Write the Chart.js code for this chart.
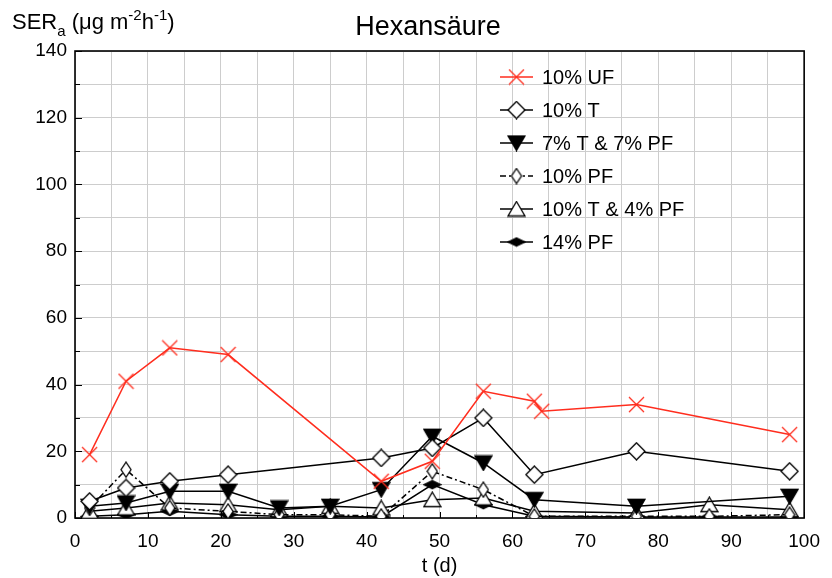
<!DOCTYPE html>
<html><head><meta charset="utf-8">
<script src="https://cdn.jsdelivr.net/npm/chart.js@4"></script>
<style>html,body{margin:0;padding:0;background:#fff}</style>
</head><body>
<canvas id="c" width="832" height="578"></canvas>
<script>
// ---- data ----
const chartTitle = 'Hexansäure';
const seriesLabels = ['10% UF', '10% T', '7% T & 7% PF', '10% PF', '10% T & 4% PF', '14% PF'];
const ufDays   = [2, 7, 13, 21, 42, 49, 56, 63, 64, 77, 98];
const ufValues = [19, 41, 51, 49, 11, 17, 38, 35, 32, 34, 25];
const tDays    = [2, 7, 13, 21, 42, 49, 56, 63, 77, 98];
const tValues  = [5, 9, 11, 13, 18, 21, 30, 13, 20, 14];
const t7pf7Days   = [2, 7, 13, 21, 28, 35, 42, 49, 56, 63, 77, 98];
const t7pf7Values = [3.5, 4.5, 8, 8, 3, 3.5, 8.5, 24.5, 16.5, 5.5, 3.5, 6.5];
const pfDays   = [2, 7, 13, 21, 28, 35, 42, 49, 56, 63, 77, 87, 98];
const pfValues = [3, 14.5, 3, 2, 1, 1, 0.5, 14, 8.5, 0.5, 0.5, 0.5, 1];
const t10pf4Days   = [2, 7, 13, 21, 28, 35, 42, 49, 56, 63, 77, 87, 98];
const t10pf4Values = [2, 3, 4.5, 4, 2.5, 3.5, 3, 5.5, 6, 2, 1.5, 4, 2.5];
const pf14Days   = [2, 7, 13, 21, 28, 35, 42, 49, 56, 63, 77, 87, 98];
const pf14Values = [0.5, 1, 2, 1, 0.5, 0.5, 0.3, 10, 4, 0.5, 0.3, 0.3, 0.3];
const xTickLabels = [0, 10, 20, 30, 40, 50, 60, 70, 80, 90, 100];
const yTickLabels = [0, 20, 40, 60, 80, 100, 120, 140];

const RED = 'rgb(255,45,30)';
const FONT = '"Liberation Sans", Arial, Helvetica, sans-serif';

function mk(w, h, fn) {
  const c = document.createElement('canvas'); c.width = w; c.height = h;
  const g = c.getContext('2d'); g.lineWidth = 1.3; g.lineJoin = 'miter'; fn(g, w, h); return c;
}
function poly(g, pts, fill, stroke) {
  g.beginPath(); g.moveTo(pts[0][0], pts[0][1]);
  for (let i = 1; i < pts.length; i++) g.lineTo(pts[i][0], pts[i][1]);
  g.closePath(); g.fillStyle = fill; g.fill(); g.strokeStyle = stroke; g.stroke();
}
const mX = mk(17, 17, g => { g.strokeStyle = RED; g.beginPath(); g.moveTo(1,1); g.lineTo(16,16); g.moveTo(16,1); g.lineTo(1,16); g.stroke(); });
const mDiam = mk(19, 19, g => poly(g, [[9.5,1],[18,9.5],[9.5,18],[1,9.5]], '#fff', '#000'));
const mDown = mk(19, 17, g => poly(g, [[1,1.5],[18,1.5],[9.5,16]], '#000', '#000'));
const mSmall = mk(12, 17, g => poly(g, [[6,1],[11,8.5],[6,16],[1,8.5]], '#fff', '#000'));
const mUp = mk(19, 17, g => poly(g, [[9.5,1],[18,15.5],[1,15.5]], '#fff', '#000'));
const mFlat = mk(19, 11, g => poly(g, [[1,5.5],[9.5,1.5],[18,5.5],[9.5,9.5]], '#000', '#000'));

function pts(xs, ys) { return xs.map((x, i) => ({ x: x, y: ys[i] })); }
function ds(label, xs, ys, color, marker, dash) {
  return { label, data: pts(xs, ys), borderColor: color, borderWidth: 1.5, borderDash: dash || [],
    pointStyle: marker, pointRadius: 8, pointHoverRadius: 8, fill: false, tension: 0, clip: 0 };
}
const datasets = [
  ds(seriesLabels[0], ufDays, ufValues, RED, mX),
  ds(seriesLabels[1], tDays, tValues, '#000', mDiam),
  ds(seriesLabels[2], t7pf7Days, t7pf7Values, '#000', mDown),
  ds(seriesLabels[3], pfDays, pfValues, '#000', mSmall, [6, 3, 2, 3]),
  ds(seriesLabels[4], t10pf4Days, t10pf4Values, '#000', mUp),
  ds(seriesLabels[5], pf14Days, pf14Values, '#000', mFlat)
];

const deco = {
  id: 'deco',
  beforeDatasetsDraw(chart) {
    const ctx = chart.ctx, a = chart.chartArea, xs = chart.scales.x, ys = chart.scales.y;
    ctx.save();
    ctx.strokeStyle = '#000'; ctx.lineWidth = 1;
    // inward ticks
    for (let v = 0; v <= 100; v += 5) {
      const px = Math.round(xs.getPixelForValue(v)) + 0.5, len = v % 10 === 0 ? 6 : 3;
      ctx.beginPath(); ctx.moveTo(px, a.bottom); ctx.lineTo(px, a.bottom - len); ctx.stroke();
    }
    for (let v = 0; v <= 140; v += 10) {
      const py = Math.round(ys.getPixelForValue(v)) + 0.5, len = v % 20 === 0 ? 7 : 5;
      ctx.beginPath(); ctx.moveTo(a.left, py); ctx.lineTo(a.left + len, py); ctx.stroke();
    }
    ctx.lineWidth = 1.6;
    ctx.strokeRect(a.left, a.top, a.right - a.left, a.bottom - a.top);
    ctx.restore();
  },
  afterDraw(chart) {
    const ctx = chart.ctx, a = chart.chartArea;
    ctx.save();
    ctx.fillStyle = '#000';
    // title
    ctx.font = '27px ' + FONT; ctx.textAlign = 'center'; ctx.textBaseline = 'alphabetic';
    ctx.fillText(chartTitle, 428, 35);
    // x title
    ctx.font = '20px ' + FONT;
    ctx.fillText('t (d)', (a.left + a.right) / 2, 572);
    // y title with sub/superscripts
    ctx.textAlign = 'left';
    let x = 12; const base = 29;
    const parts = [['SER', 22, 0], ['a', 15, 7], [' (\u03bcg m', 22, 0], ['-2', 15, -9], ['h', 22, 0], ['-1', 15, -9], [')', 22, 0]];
    for (const [t, s, dy] of parts) {
      ctx.font = s + 'px ' + FONT; ctx.fillText(t, x, base + dy); x += ctx.measureText(t).width;
    }
    // legend
    const lx0 = 500, lx1 = 533, ty0 = 77, dyRow = 33;
    chart.data.datasets.forEach((d, i) => {
      const y = ty0 + i * dyRow;
      ctx.strokeStyle = d.borderColor; ctx.lineWidth = d.borderWidth; ctx.setLineDash(d.borderDash || []);
      ctx.beginPath(); ctx.moveTo(lx0, y); ctx.lineTo(lx1, y); ctx.stroke(); ctx.setLineDash([]);
      const m = d.pointStyle; ctx.drawImage(m, (lx0 + lx1) / 2 - m.width / 2, y - m.height / 2);
      ctx.font = '20px ' + FONT; ctx.textBaseline = 'middle'; ctx.fillStyle = '#000';
      ctx.fillText(d.label, 542, y + 1);
    });
    ctx.restore();
  }
};

new Chart(document.getElementById('c'), {
  type: 'line',
  data: { datasets },
  plugins: [deco],
  options: {
    responsive: false, animation: false, devicePixelRatio: 1,
    layout: { padding: { top: 51, right: 21, left: 0, bottom: 0 } },
    plugins: { legend: { display: false }, title: { display: false }, tooltip: { enabled: false } },
    scales: {
      x: {
        type: 'linear', min: 0, max: 100,
        afterFit(s) { s.height = 60; },
        afterBuildTicks(s) { const t = []; for (let v = 0; v <= 100; v += 5) t.push({ value: v }); s.ticks = t; },
        ticks: { autoSkip: false, maxRotation: 0, padding: 12, color: '#000',
          font: { family: FONT, size: 19 },
          callback: v => xTickLabels.includes(v) ? String(v) : '' },
        grid: { color: 'rgb(205,205,205)', lineWidth: 1, drawTicks: false },
        border: { display: false }
      },
      y: {
        type: 'linear', min: 0, max: 140,
        afterFit(s) { s.width = 75; },
        afterBuildTicks(s) { const t = []; for (let v = 0; v <= 140; v += 10) t.push({ value: v }); s.ticks = t; },
        ticks: { autoSkip: false, padding: 8, color: '#000',
          font: { family: FONT, size: 19 },
          callback: v => yTickLabels.includes(v) ? String(v) : '' },
        grid: { color: 'rgb(205,205,205)', lineWidth: 1, drawTicks: false },
        border: { display: false }
      }
    }
  }
});
</script>
</body></html>
